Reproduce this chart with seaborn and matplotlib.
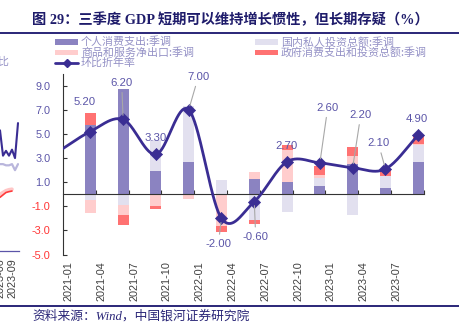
import numpy as np
import pandas as pd
import matplotlib
matplotlib.use("Agg")
import matplotlib.pyplot as plt
import seaborn as sns
from matplotlib.lines import Line2D
from matplotlib.patches import Rectangle

# ---------------- data ----------------
quarters = ["2021-03", "2021-06", "2021-09", "2021-12", "2022-03", "2022-06",
            "2022-09", "2022-12", "2023-03", "2023-06", "2023-09"]
gdp_qoq_saar = [5.2, 6.2, 3.3, 7.0, -2.0, -0.6, 2.7, 2.6, 2.2, 2.1, 4.9]
# previous quarter (only the line enters the plot from the left edge)
gdp_prev_quarter = "2020-12"
gdp_prev_value = 3.5

pce = [5.7, 8.7, 1.9, 2.7, 0.0, 1.3, 1.0, 0.7, 2.5, 0.55, 2.69]
investment = [-0.5, -0.9, 2.6, 4.6, 1.15, -2.1, -1.45, 0.62, -1.75, 0.95, 1.4]
net_exports = [-1.05, -0.85, -1.0, -0.4, -2.65, 0.55, 2.65, 0.3, 0.63, 0.05, 0.05]
government = [1.0, -0.8, -0.25, 0.0, -0.5, -0.35, 0.4, 0.75, 0.8, 0.55, 0.76]

series_names = ["个人消费支出:季调", "国内私人投资总额:季调",
                "商品和服务净出口:季调", "政府消费支出和投资总额:季调"]
line_name = "环比折年率"
xtick_labels = ["2021-01", "2021-04", "2021-07", "2021-10", "2022-01", "2022-04",
                "2022-07", "2022-10", "2023-01", "2023-04", "2023-07"]
ytick_values = [9, 7, 5, 3, 1, -1, -3, -5]

title = "图 29：三季度 GDP 短期可以维持增长惯性，但长期存疑（%）"
source = "资料来源：Wind，中国银河证券研究院"

# fragment of the neighbouring chart, cut by the left edge
frag_purple = [5.3, 3.2, 3.6, 3.2, 3.7, 3.0, 5.9]
frag_lavender = [2.5, 2.5, 2.4, 2.4, 2.5, 2.0, 2.5]
frag_pink = [0.0, 0.15, 0.3, 0.38, 0.42]
frag_red = [-0.25, -0.05, 0.15, 0.22, 0.27]
frag_tick_label = "2023-09"
frag_prev_label = "2023-06"
frag_legend_tail = "同比"

# ---------------- style ----------------
sns.set_theme(style="white")
plt.rcParams["font.family"] = ["Liberation Sans", "Noto Sans CJK SC", "DejaVu Sans"]
CJK = ["Noto Sans CJK SC", "DejaVu Sans"]

C_PCE = "#8b83c1"
C_INV = "#e2e0ef"
C_NX = "#ffcdcd"
C_GOV = "#ff7272"
C_LINE = "#3a2d93"
C_LBL = "#5b55a8"
C_NEG = "#ff3333"
C_NAVY = "#2a2678"
C_LEG = "#9491c6"
colors = [C_PCE, C_INV, C_NX, C_GOV]

W, H = 459, 326
fig = plt.figure(figsize=(W / 100, H / 100), dpi=100)


def fx(px):
    return px / W


def fy(py):
    return 1 - py / H


def month_pos(s):
    y, m = map(int, s.split("-"))
    return (y - 2021) * 12 + (m - 1) + 0.5


xq = np.array([month_pos(q) for q in quarters])

# ---------------- main axes ----------------
ax = fig.add_axes([fx(63), fy(254.6), fx(423.7) - fx(63), (254.6 - 73.6) / H])
ax.set_xlim(0, 33)
ax.set_ylim(-5, 10)

pos_bottom = np.zeros(len(quarters))
neg_bottom = np.zeros(len(quarters))
for vals, col in zip([pce, investment, net_exports, government], colors):
    v = np.array(vals, float)
    bottom = np.where(v >= 0, pos_bottom, neg_bottom)
    ax.bar(xq, v, bottom=bottom, width=1.0, color=col, linewidth=0, zorder=2)
    pos_bottom = pos_bottom + np.where(v >= 0, v, 0)
    neg_bottom = neg_bottom + np.where(v < 0, v, 0)


def smooth(xs, ys, n=40):
    P = np.column_stack([np.asarray(xs, float), np.asarray(ys, float)])
    T = np.zeros_like(P)
    T[1:-1] = (P[2:] - P[:-2]) / 2
    T[0] = P[1] - P[0]
    T[-1] = P[-1] - P[-2]
    t = np.linspace(0, 1, n)[:, None]
    h00 = 2 * t**3 - 3 * t**2 + 1
    h10 = t**3 - 2 * t**2 + t
    h01 = -2 * t**3 + 3 * t**2
    h11 = t**3 - t**2
    segs = []
    for i in range(len(P) - 1):
        s = h00 * P[i] + h10 * T[i] + h01 * P[i + 1] + h11 * T[i + 1]
        segs.append(s if i == 0 else s[1:])
    return np.vstack(segs)


line_x = np.concatenate([[month_pos(gdp_prev_quarter)], xq])
line_y = np.concatenate([[gdp_prev_value], gdp_qoq_saar])
curve = smooth(line_x, line_y)
curve_df = pd.DataFrame({"x": curve[:, 0], "y": curve[:, 1]})
sns.lineplot(data=curve_df, x="x", y="y", sort=False, estimator=None,
             color=C_LINE, lw=2.0, ax=ax, zorder=4)
pts_df = pd.DataFrame({"x": xq, "y": gdp_qoq_saar})
sns.scatterplot(data=pts_df, x="x", y="y", marker="D", s=38, color=C_LINE,
                edgecolor=C_LINE, linewidth=0.5, ax=ax, zorder=5)

# value labels (offsets in data units) and grey leader lines
label_offsets = [(-0.49, 2.47), (-0.13, 3.04), (0.0, 1.34), (0.88, 2.74),
                 (-0.29, -2.11), (0.13, -2.91), (-0.04, 1.33), (0.72, 4.57),
                 (0.74, 4.37), (-0.65, 2.13), (-0.09, 1.31)]
leader = [False, True, False, True, True, True, False, True, True, True, False]
for xv, yv, (dx, dy), ld in zip(xq, gdp_qoq_saar, label_offsets, leader):
    ap = dict(arrowstyle="-", color="#a8a8a8", lw=0.8, shrinkA=1, shrinkB=3) if ld else None
    ax.annotate(f"{yv:.2f}", xy=(xv, yv), xytext=(xv + dx, yv + dy),
                ha="center", va="center", fontsize=8.2, color=C_LBL,
                arrowprops=ap, zorder=6)

# axes decoration
for s in ["top", "right"]:
    ax.spines[s].set_visible(False)
ax.spines["left"].set_color("#333333")
ax.spines["left"].set_linewidth(0.8)
ax.spines["bottom"].set_position(("data", 0))
ax.spines["bottom"].set_color("#333333")
ax.spines["bottom"].set_linewidth(0.8)
ax.spines["bottom"].set_zorder(3)
ax.set_xticks(np.arange(3, 34, 3))
ax.tick_params(axis="x", direction="in", length=3, width=0.8, color="#333333",
               labelbottom=False, bottom=True)
ax.set_yticks(ytick_values)
ax.set_yticklabels([f"{v:.1f}" for v in ytick_values])
ax.tick_params(axis="y", direction="in", length=3, width=0.8, color="#333333",
               pad=9, labelsize=7.8, left=True)
for lbl, v in zip(ax.get_yticklabels(), ytick_values):
    lbl.set_color(C_LBL if v > 0 else C_NEG)
ax.set_xlabel("")
ax.set_ylabel("")
ax.grid(False)

sec = ax.secondary_xaxis("bottom")
sec.set_xticks([month_pos(l) for l in xtick_labels])
sec.set_xticklabels(xtick_labels, rotation=90, fontsize=7.8, color="#404040")
sec.tick_params(length=0, pad=5)
sec.spines["bottom"].set_visible(False)

# ---------------- fragment of neighbouring chart ----------------
fa = fig.add_axes([0, fy(251), fx(19), (251 - 70) / H])
fa.set_xlim(0, 19 / 3)
fa.set_ylim((194.3 - 251) / 12.07, (194.3 - 70) / 12.07)
fa.plot(np.arange(len(frag_pink)), frag_pink, color="#ffc6c6", lw=2.6)
fa.plot(np.arange(len(frag_red)), frag_red, color="#ff3a3a", lw=1.2)
fa.plot(np.arange(len(frag_lavender)), frag_lavender, color="#b9b6dc", lw=1.6)
fa.plot(np.arange(len(frag_purple)), frag_purple, color=C_LINE, lw=1.5)
for s in ["top", "right", "left"]:
    fa.spines[s].set_visible(False)
fa.spines["bottom"].set_color(C_LBL)
fa.spines["bottom"].set_linewidth(0.9)
fa.set_yticks([])
fa.set_xticks([4])
fa.set_xticklabels([frag_tick_label], rotation=90, fontsize=7.8, color="#404040")
fa.tick_params(axis="x", direction="in", length=3, color=C_LBL, pad=5)
fa.patch.set_alpha(0)
fig.text(fx(1), fy(258), frag_prev_label, rotation=90, fontsize=7.8, color="#404040",
         ha="center", va="top")
fig.text(fx(9), fy(62), frag_legend_tail, fontsize=7.9, color=C_LEG, ha="right",
         va="center", family=CJK)

# ---------------- legend (manual) ----------------
leg_rows = [42, 52.5, 63]
leg_cols = [55, 255]
entries = [(0, 0, 0), (1, 0, 1), (0, 1, 2), (1, 1, 3)]  # (col, row, series index)
for col, row, si in entries:
    x0 = leg_cols[col]
    y0 = leg_rows[row]
    fig.add_artist(Rectangle((fx(x0), fy(y0 + 2.6)), fx(23), 5.2 / H,
                             transform=fig.transFigure, color=colors[si], lw=0))
    fig.text(fx(x0 + 26), fy(y0), series_names[si], fontsize=7.9, color=C_LEG,
             va="center", ha="left", family=CJK)
fig.add_artist(Line2D([fx(55), fx(78)], [fy(63), fy(63)], transform=fig.transFigure,
                      color=C_LINE, lw=2.0))
fig.add_artist(Line2D([fx(66.5)], [fy(63)], transform=fig.transFigure, marker="D",
                      markersize=4, color=C_LINE, lw=0))
fig.text(fx(81), fy(63), line_name, fontsize=7.9, color=C_LEG, va="center", ha="left",
         family=CJK)

# ---------------- title, rules, source ----------------
fig.text(fx(32), fy(20), title, fontsize=10.3, fontweight="bold", color="#1f1c6b",
         va="center", ha="left", family=["Liberation Serif", "Noto Sans CJK SC"])
fig.add_artist(Line2D([0, 1], [fy(33), fy(33)], transform=fig.transFigure,
                      color=C_NAVY, lw=1.4))
fig.add_artist(Line2D([0, 1], [fy(305.7), fy(305.7)], transform=fig.transFigure,
                      color=C_NAVY, lw=1.4))
fig.text(fx(32), fy(316), source, fontsize=9.2, style="italic", color=C_NAVY,
         va="center", ha="left", family=["Liberation Serif", "Noto Sans CJK SC"])

fig.savefig("out.png", dpi=100)
